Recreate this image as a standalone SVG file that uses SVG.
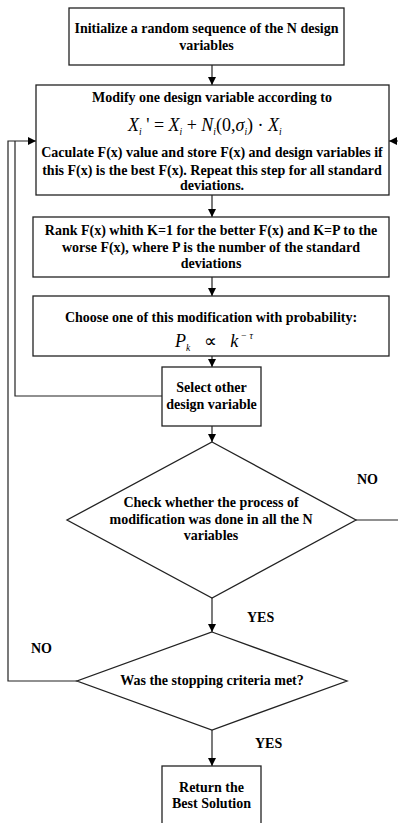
<svg xmlns="http://www.w3.org/2000/svg" width="398" height="823" viewBox="0 0 398 823">
  <defs>
    <marker id="arrow" viewBox="0 0 8 8" refX="8" refY="4" markerWidth="8" markerHeight="8" markerUnits="userSpaceOnUse" orient="auto">
      <path d="M0,0 L8,4 L0,8 Z" fill="#000"/>
    </marker>
    <style>
      .box { fill: #fff; stroke: #222; stroke-width: 1.3; }
      .line { fill: none; stroke: #222; stroke-width: 1.2; }
      .t { font-family: "Liberation Serif", "Times New Roman", serif; font-weight: bold; font-size: 14px; fill: #000; text-anchor: middle; }
      .m { font-family: "Liberation Serif", "Times New Roman", serif; font-style: italic; font-size: 18px; fill: #000; }
      .up { font-style: normal; }
      .sub { font-size: 9.5px; }
      .lbl { font-family: "Liberation Serif", "Times New Roman", serif; font-weight: bold; font-size: 14px; fill: #000; }
    </style>
  </defs>
  <rect width="398" height="823" fill="#fff"/>

  <!-- connectors -->
  <g id="connectors">
    <line class="line" x1="212" y1="65" x2="212" y2="85" marker-end="url(#arrow)"/>
    <line class="line" x1="212" y1="195" x2="212" y2="217" marker-end="url(#arrow)"/>
    <line class="line" x1="212" y1="277" x2="212" y2="296" marker-end="url(#arrow)"/>
    <line class="line" x1="212" y1="356" x2="212" y2="367" marker-end="url(#arrow)"/>
    <line class="line" x1="212" y1="426" x2="212" y2="442" marker-end="url(#arrow)"/>
    <line class="line" x1="212" y1="598" x2="212" y2="632" marker-end="url(#arrow)"/>
    <line class="line" x1="212" y1="730" x2="212" y2="766" marker-end="url(#arrow)"/>
    <!-- loop back from "Select other design variable" -->
    <polyline class="line" points="162,396 15,396 15,141"/>
    <!-- loop back from stopping criteria (NO) -->
    <polyline class="line" points="77,681 8,681 8,141 36,141" marker-end="url(#arrow)"/>
    <!-- loop back from the N-variables check (NO), running past the right edge -->
    <polyline class="line" points="356,520 402,520 402,141 389,141" marker-end="url(#arrow)"/>
  </g>

  <g id="init">
    <rect class="box" x="69" y="8" width="275" height="57"/>
    <text class="t" x="206.5" y="33">Initialize a random sequence of the N design</text>
    <text class="t" x="206.5" y="50">variables</text>
  </g>

  <g id="modify">
    <rect class="box" x="36" y="85" width="353" height="110"/>
    <text class="t" x="212" y="102">Modify one design variable according to</text>
    <text class="m" x="128" y="131">X<tspan class="sub" dy="4">i</tspan><tspan class="up" dy="-4"> ' = </tspan>X<tspan class="sub" dy="4">i</tspan><tspan class="up" dy="-4">  + </tspan>N<tspan class="sub" dy="4">i</tspan><tspan class="up" dy="-4">(0,</tspan>σ<tspan class="sub" dy="4">i</tspan><tspan class="up" dy="-4">) · </tspan>X<tspan class="sub" dy="4">i</tspan></text>
    <text class="t" x="212" y="157">Caculate F(x) value and store F(x) and design variables if</text>
    <text class="t" x="212" y="175">this F(x) is the best F(x). Repeat this step for all standard</text>
    <text class="t" x="212" y="190">deviations.</text>
  </g>

  <g id="rank">
    <rect class="box" x="33" y="217" width="356" height="60"/>
    <text class="t" x="211" y="235">Rank F(x) whith K=1 for the better F(x) and K=P to the</text>
    <text class="t" x="211" y="252">worse F(x), where P is the number of the standard</text>
    <text class="t" x="211" y="268">deviations</text>
  </g>

  <g id="choose">
    <rect class="box" x="33" y="296" width="356" height="60"/>
    <text class="t" x="211" y="322">Choose one of this modification with probability:</text>
    <text class="m" x="175" y="347" xml:space="preserve">P<tspan class="sub" dy="4">k</tspan><tspan class="up" dy="-4">   ∝   </tspan>k<tspan class="sub" dy="-8"> − </tspan><tspan class="sub">τ</tspan></text>
  </g>

  <g id="select">
    <rect class="box" x="162" y="367" width="99" height="59"/>
    <text class="t" x="211.5" y="392">Select other</text>
    <text class="t" x="211.5" y="409">design variable</text>
  </g>

  <g id="check">
    <polygon class="box" points="212,442 356,520 212,598 67,520"/>
    <text class="t" x="211" y="507">Check whether the process of</text>
    <text class="t" x="211" y="524">modification was done in all the N</text>
    <text class="t" x="211" y="540">variables</text>
  </g>

  <g id="stop">
    <polygon class="box" points="212,632 347,681 212,730 77,681"/>
    <text class="t" x="212" y="685">Was the stopping criteria met?</text>
  </g>

  <g id="result">
    <rect class="box" x="162" y="766" width="99" height="70"/>
    <text class="t" x="211.5" y="792">Return the</text>
    <text class="t" x="211.5" y="808">Best Solution</text>
  </g>

  <g id="labels">
    <text class="lbl" x="357" y="484">NO</text>
    <text class="lbl" x="247" y="622">YES</text>
    <text class="lbl" x="31" y="653">NO</text>
    <text class="lbl" x="255" y="748">YES</text>
  </g>
</svg>
